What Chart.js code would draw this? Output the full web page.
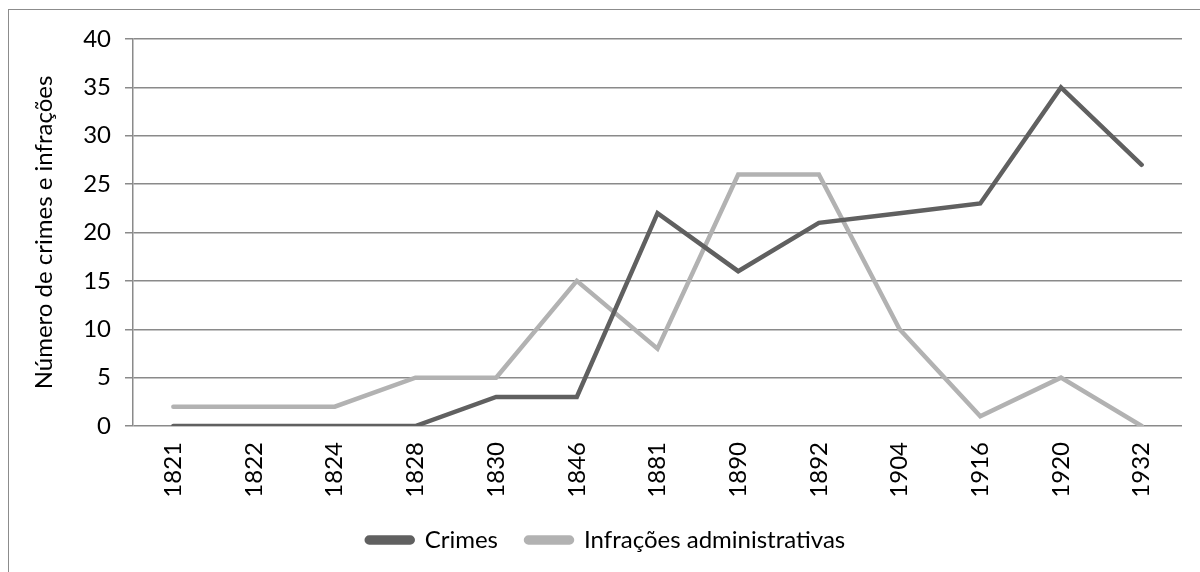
<!DOCTYPE html>
<html>
<head>
<meta charset="utf-8">
<script src="https://cdn.jsdelivr.net/npm/chart.js@4"></script>
<style>
    html, body { margin: 0; padding: 0; background: #fff; overflow: hidden; }
    #frame {
        position: absolute; left: 8px; top: 9px;
        width: 1300px; height: 700px;
        border: 1px solid #8c8c8c;
    }
    #wrap { position: absolute; left: 0; top: 0; width: 1200px; height: 572px; }
</style>
</head>
<body>
<div id="frame"></div>
<div id="wrap"><canvas id="crime-chart"></canvas></div>
<script>
// Years on the category axis
const years = ['1821', '1822', '1824', '1828', '1830', '1846', '1881', '1890', '1892', '1904', '1916', '1920', '1932'];

// Counts per year
const crimes = [0, 0, 0, 0, 3, 3, 22, 16, 21, 22, 23, 35, 27];
const infracoes = [2, 2, 2, 5, 5, 15, 8, 26, 26, 10, 1, 5, 0];

const yTicks = [0, 5, 10, 15, 20, 25, 30, 35, 40];

const fontFamily = 'Lato, "Open Sans", sans-serif';
const fontSize = 24;

document.addEventListener('DOMContentLoaded', function() {
    const ctx = document.getElementById('crime-chart').getContext('2d');

    window.crimeChart = new Chart(ctx, {
        type: 'line',
        data: {
            labels: years,
            datasets: [{
                label: 'Crimes',
                data: crimes,
                borderColor: '#606060',
                backgroundColor: '#606060',
                borderWidth: 4.5,
                pointRadius: 0,
                tension: 0,
                borderCapStyle: 'round'
            }, {
                label: 'Infrações administrativas',
                data: infracoes,
                borderColor: '#b2b2b2',
                backgroundColor: '#b2b2b2',
                borderWidth: 4.5,
                pointRadius: 0,
                tension: 0,
                borderCapStyle: 'round'
            }]
        },
        options: {
            responsive: true,
            maintainAspectRatio: false,
            animation: false,
            layout: {
                padding: { top: 39, right: 18, left: 30, bottom: 10 }
            },
            plugins: {
                tooltip: { enabled: false },
                legend: {
                    position: 'bottom',
                    labels: {
                        boxWidth: 46,
                        boxHeight: 5,
                        padding: 28,
                        color: '#000',
                        font: { family: fontFamily, size: fontSize },
                        useBorderRadius: true,
                        borderRadius: 2.5
                    }
                }
            },
            scales: {
                x: {
                    offset: true,
                    grid: { display: false, drawTicks: false },
                    border: { display: false },
                    ticks: {
                        color: '#000',
                        minRotation: 90,
                        maxRotation: 90,
                        padding: 16,
                        font: { family: fontFamily, size: fontSize }
                    },
                    afterFit: function(scale) { scale.height = 74; }
                },
                y: {
                    min: 0,
                    max: 40,
                    afterBuildTicks: function(scale) {
                        scale.ticks = yTicks.map(v => ({ value: v }));
                    },
                    grid: {
                        color: '#8a8a8a',
                        lineWidth: 1.5,
                        tickLength: 8,
                        tickColor: '#8a8a8a'
                    },
                    border: { display: true, color: '#8a8a8a', width: 1.5 },
                    ticks: {
                        color: '#000',
                        padding: 14,
                        font: { family: fontFamily, size: fontSize }
                    },
                    title: {
                        display: true,
                        text: 'Número de crimes e infrações',
                        color: '#000',
                        padding: 0,
                        font: { family: fontFamily, size: fontSize }
                    },
                    afterFit: function(scale) { scale.width = 103; }
                }
            }
        }
    });
});
</script>
</body>
</html>
